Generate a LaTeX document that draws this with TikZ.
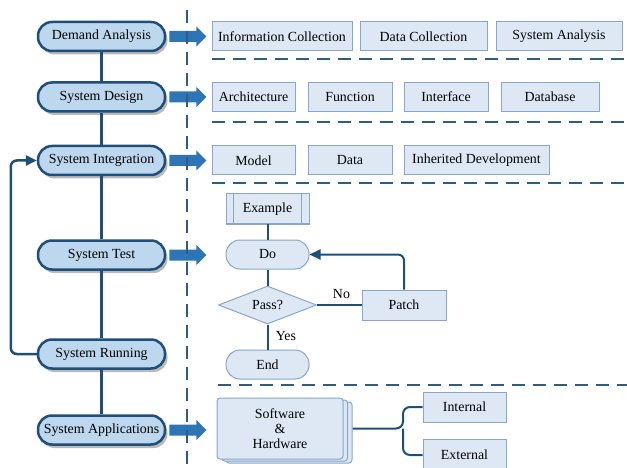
\documentclass[tikz,border=0pt]{standalone}
\usepackage{fontspec}
\setmainfont{Liberation Serif}
\usetikzlibrary{shapes.geometric,shadows,arrows.meta}
\definecolor{navy}{HTML}{1F4E79}
\definecolor{stagefill}{HTML}{BDD7EE}
\definecolor{boxfill}{HTML}{DDE8F4}
\definecolor{boxline}{HTML}{8AA7C7}
\definecolor{arrowblue}{HTML}{2E75B6}
\definecolor{dashblue}{HTML}{2F5B87}
\begin{document}
\begin{tikzpicture}[x=1pt,y=-1pt,
  font=\fontsize{13.9}{16}\selectfont,
  stage/.style={rectangle, rounded corners=14pt, draw=navy, line width=2.5pt, fill=stagefill,
    minimum width=127pt, minimum height=29pt, inner sep=0pt,
    drop shadow={shadow xshift=2.5pt, shadow yshift=-3.5pt, opacity=0.45, fill=black!60}},
  itembox/.style={rectangle, draw=boxline, line width=1pt, fill=boxfill, minimum height=29pt, inner sep=0pt},
  flowround/.style={itembox, rounded corners=14pt, minimum width=83pt},
  chain/.style={draw=navy, line width=2.5pt},
  conn/.style={draw=navy, line width=2pt},
  sep/.style={draw=dashblue, line width=2pt, dash pattern=on 13pt off 8pt},
  tip/.style={-{Triangle[length=11pt,width=10pt]}},
  bigarr/.pic={\fill[arrowblue] (0,-5.5) -- (27,-5.5) -- (27,-10) -- (37,0) -- (27,10) -- (27,5.5) -- (0,5.5) -- cycle;}
]
\useasboundingbox (0,0) rectangle (627,468);
\clip (0,0) rectangle (627,468);

% left stages
\node[stage] (da) at (101.5,36.5) {Demand Analysis};
\node[stage] (sd) at (101.5,97) {System Design};
\node[stage] (si) at (101.5,160.5) {System Integration};
\node[stage] (st) at (101.5,255) {System Test};
\node[stage] (sr) at (101.5,354) {System Running};
\node[stage] (sa) at (101.5,430) {System Applications};

\draw[chain] (da.south) -- (sd.north);
\draw[chain] (sd.south) -- (si.north);
\draw[chain] (si.south) -- (st.north);
\draw[chain] (st.south) -- (sr.north);
\draw[chain] (sr.south) -- (sa.north);
\draw[chain, tip, rounded corners=6pt] (sr.west) -- ++(-26,0) |- (si.west);

% row 1
\node[itembox, minimum width=140pt] (info) at (282,36.5) {Information Collection};
\node[itembox, minimum width=127pt] (dc) at (423.5,36.5) {Data Collection};
\node[itembox, minimum width=126pt] (sysa) at (559,36.5) {System Analysis};
% row 2
\node[itembox, minimum width=83pt] (arch) at (253.5,97) {Architecture};
\node[itembox, minimum width=84pt] (func) at (350,97) {Function};
\node[itembox, minimum width=84pt] (intf) at (446,97) {Interface};
\node[itembox, minimum width=98pt] (db) at (550,97) {Database};
% row 3
\node[itembox, minimum width=83pt] (model) at (253.5,160.5) {Model};
\node[itembox, minimum width=84pt] (data) at (350,160.5) {Data};
\node[itembox, minimum width=145pt] (inh) at (476.5,160.5) {Inherited Development};

% flowchart
\node[itembox, minimum width=83pt, minimum height=30pt] (ex) at (267.5,209) {Example};
\draw[draw=boxline, line width=1pt] ([xshift=8pt]ex.north west) -- ([xshift=8pt]ex.south west);
\draw[draw=boxline, line width=1pt] ([xshift=-8pt]ex.north east) -- ([xshift=-8pt]ex.south east);
\node[flowround] (do) at (267.5,254.5) {Do};
\node[shape=diamond, draw=boxline, line width=1pt, fill=boxfill, minimum width=98pt, minimum height=38pt, inner sep=0pt, aspect=2.5] (pass) at (267.5,305) {Pass?};
\node[flowround] (end) at (267.5,364.5) {End};
\node[itembox, minimum width=84pt, minimum height=30pt] (patch) at (404,305) {Patch};

\draw[conn] (ex.south) -- (do.north);
\draw[conn] (do.south) -- (pass.north);
\draw[conn] (pass.south) -- node[right=4pt, pos=0.45] (yes) {Yes} (end.north);
\draw[conn] (pass.east) -- node[above=2pt, pos=0.55] (no) {No} (patch.west);
\draw[conn, tip, rounded corners=6pt] (patch.north) |- (do.east);

% applications
\draw[draw=boxline, line width=1pt, fill=boxfill, rounded corners=3pt] (226,402) rectangle (352,463);
\draw[draw=boxline, line width=1pt, fill=boxfill, rounded corners=3pt] (221.5,400) rectangle (347.5,461);
\node[itembox, rounded corners=3pt, minimum width=126pt, minimum height=61pt, align=center] (sh) at (280,428.5) {Software\\[-1pt]\&\\[-1pt]Hardware};
\node[itembox, minimum width=83pt, minimum height=30pt] (int) at (464.5,407) {Internal};
\node[itembox, minimum width=83pt, minimum height=32pt] (ext) at (464.5,455) {External};
\coordinate (br) at (403,428.5);
\draw[conn, rounded corners=7pt] ([xshift=9pt]sh.east) -- (br) |- (int.west);
\draw[conn, rounded corners=7pt] (br) |- (ext.west);

% big arrows
\pic at ([xshift=3pt]da.east) {bigarr};
\pic at ([xshift=3pt]sd.east) {bigarr};
\pic at ([xshift=3pt]si.east) {bigarr};
\pic at ([xshift=3pt]st.east) {bigarr};
\pic at ([xshift=3pt]sa.east) {bigarr};

% separators
\draw[sep] (187,10) -- (187,470);
\draw[sep] (212,59) -- (630,59);
\draw[sep] (212,122) -- (630,122);
\draw[sep] (212,183) -- (630,183);
\draw[sep] (218,385) -- (630,385);
\end{tikzpicture}
\end{document}
